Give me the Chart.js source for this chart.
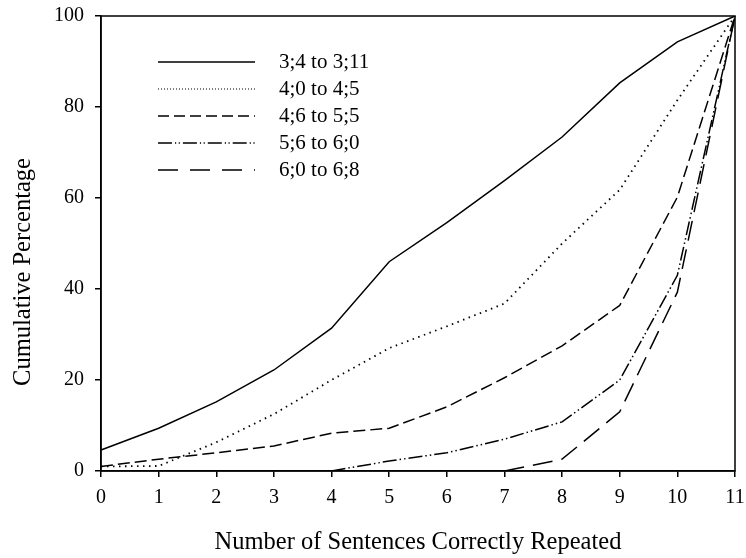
<!DOCTYPE html>
<html><head><meta charset="utf-8">
<script src="https://cdn.jsdelivr.net/npm/chart.js@4/dist/chart.umd.min.js"></script>
<style>html,body{margin:0;padding:0;background:#fff}</style>
</head><body>
<div style="width:746px;height:558px"><canvas id="c" width="746" height="558"></canvas></div>
<script>
const categories = ['0','1','2','3','4','5','6','7','8','9','10','11'];
const seriesLabels = ['3;4 to 3;11','4;0 to 4;5','4;6 to 5;5','5;6 to 6;0','6;0 to 6;8'];
const age1 = [4.6, 9.4, 15.2, 22.2, 31.4, 46.0, 54.6, 63.8, 73.4, 85.3, 94.3, 100];
const age2 = [1.0, 1.1, 6.3, 12.5, 20.0, 27.0, 31.8, 36.8, 50.0, 61.8, 81.5, 100];
const age3 = [1.0, 2.6, 4.0, 5.5, 8.3, 9.4, 14.1, 20.5, 27.5, 36.4, 60.2, 100];
const age4 = [null, null, null, null, 0, 2.2, 4.0, 7.0, 10.8, 20.0, 43.0, 100];
const age5 = [null, null, null, null, null, null, null, 0, 2.6, 13.0, 39.3, 100];
const yTicks = [0, 20, 40, 60, 80, 100];
const yTitle = 'Cumulative Percentage';
const xTitle = 'Number of Sentences Correctly Repeated';

const dashes = [[], [1.5, 4.5], [12, 5], [14, 3, 1.5, 3, 1.5, 3], [20, 9]];
const legendDashes = [[], [1, 2], [11, 5], [14, 3, 1.2, 2.5, 1.2, 3], [20, 12]];
const seriesData = [age1, age2, age3, age4, age5];

const serif = '"Liberation Serif", "Times New Roman", serif';

const framePlugin = {
  id: 'frame',
  afterDatasetsDraw(chart) {
    const {ctx, chartArea: a} = chart;
    ctx.save();
    ctx.strokeStyle = '#000';
    ctx.lineWidth = 1.5;
    ctx.setLineDash([]);
    ctx.strokeRect(a.left, a.top, a.right - a.left, a.bottom - a.top);
    const x0 = 158, x1 = 255, tx = 279;
    const rows = [62, 89, 116, 143, 170];
    ctx.font = '21px ' + serif;
    ctx.fillStyle = '#000';
    ctx.textBaseline = 'middle';
    chart.data.datasets.forEach((ds, i) => {
      ctx.beginPath();
      ctx.lineWidth = i === 1 ? 1.2 : 1.6;
      ctx.setLineDash(legendDashes[i]);
      ctx.moveTo(x0, rows[i]);
      ctx.lineTo(x1, rows[i]);
      ctx.stroke();
      ctx.setLineDash([]);
      ctx.fillText(ds.label, tx, rows[i]);
    });
    // y axis title
    ctx.translate(24, 272);
    ctx.rotate(-Math.PI / 2);
    ctx.font = '24.5px ' + serif;
    ctx.textAlign = 'center';
    ctx.textBaseline = 'middle';
    ctx.fillText(yTitle, 0, 0);
    ctx.restore();
  }
};

new Chart(document.getElementById('c'), {
  type: 'line',
  data: {
    labels: categories,
    datasets: seriesData.map((d, i) => ({
      label: seriesLabels[i],
      data: d,
      borderColor: '#000',
      backgroundColor: '#000',
      borderWidth: i === 1 ? 1.8 : 1.5,
      borderDash: dashes[i],
      pointRadius: 0,
      tension: 0,
      spanGaps: false,
      fill: false
    }))
  },
  options: {
    responsive: false,
    animation: false,
    layout: { padding: { left: 0, right: 11, top: 16, bottom: 0 } },
    plugins: { legend: { display: false }, tooltip: { enabled: false } },
    scales: {
      x: {
        type: 'category',
        offset: false,
        grid: { display: true, drawOnChartArea: false, drawTicks: true, tickLength: 6, color: '#000', lineWidth: 1.5 },
        border: { display: true, color: '#000', width: 1.5 },
        ticks: { color: '#000', font: { family: serif, size: 20 }, padding: 9, maxRotation: 0, autoSkip: false },
        title: { display: true, text: xTitle, color: '#000', font: { family: serif, size: 24.5 }, padding: { top: 0, bottom: 1 } },
        afterFit(s) { s.height = 87; s.paddingLeft = 0; s.paddingRight = 0; }
      },
      y: {
        min: 0, max: 100,
        afterBuildTicks(s) { s.ticks = yTicks.map(v => ({ value: v })); },
        grid: { display: true, drawOnChartArea: false, drawTicks: true, tickLength: 6, color: '#000', lineWidth: 1.5 },
        border: { display: true, color: '#000', width: 1.5 },
        ticks: { color: '#000', font: { family: serif, size: 20 }, padding: 11 },
        title: { display: false },
        afterFit(s) { s.width = 101; s.paddingTop = 0; s.paddingBottom = 0; }
      }
    }
  },
  plugins: [framePlugin]
});
</script>
</body></html>
